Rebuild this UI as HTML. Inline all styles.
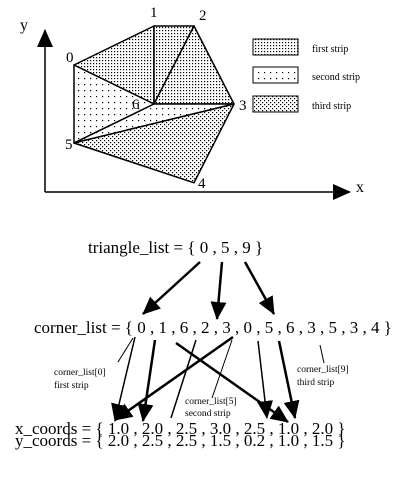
<!DOCTYPE html>
<html><head><meta charset="utf-8"><style>
body{margin:0;background:#fff;width:400px;height:480px;overflow:hidden}
svg text{font-family:"Liberation Serif",serif;fill:#000}
</style></head><body>
<svg id="fig" width="400" height="480" viewBox="0 0 400 480" xmlns="http://www.w3.org/2000/svg">
<defs>
<pattern id="p1" width="3" height="3" patternUnits="userSpaceOnUse"><rect width="3" height="3" fill="#fff"/><rect width="1.2" height="1.2" fill="#000"/></pattern>
<pattern id="p2" width="6" height="6" patternUnits="userSpaceOnUse"><rect width="6" height="6" fill="#fff"/><rect width="1.2" height="1.2" fill="#000"/></pattern>
<pattern id="p3" width="4" height="4" patternUnits="userSpaceOnUse"><rect width="4" height="4" fill="#fff"/><rect width="1.2" height="1.2" fill="#000"/><rect x="2" y="2" width="1.2" height="1.2" fill="#000"/></pattern>
<marker id="big" markerWidth="18" markerHeight="16" refX="17" refY="8" orient="auto" markerUnits="userSpaceOnUse" viewBox="0 0 18 16"><path d="M0,0 L18,8 L0,16 z" fill="#000"/></marker>
</defs>
<g id="plot"></g>
<g>
<line x1="45" y1="192" x2="45" y2="30" stroke="#000" stroke-width="1.5" marker-end="url(#big)"/>
<line x1="45" y1="192" x2="350" y2="192" stroke="#000" stroke-width="1.5" marker-end="url(#big)"/>
<text x="20" y="30" font-size="16">y</text>
<text x="356" y="192" font-size="16">x</text>
</g>
<g font-size="10">
<g><rect x="253" y="39" width="45" height="16" fill="url(#p1)" stroke="#000"/><text x="312" y="52">first strip</text></g>
<g><rect x="253" y="67" width="45" height="16" fill="url(#p2)" stroke="#000"/><text x="312" y="80">second strip</text></g>
<g><rect x="253" y="96" width="45" height="16" fill="url(#p3)" stroke="#000"/><text x="312" y="109">third strip</text></g>
</g>
<g font-size="17">
<text x="88" y="253">triangle_list = { 0 , 5 , 9 }</text>
<text x="34" y="333">corner_list = { 0 , 1 , 6 , 2 , 3 , 0 , 5 , 6 , 3 , 5 , 3 , 4 }</text>
<text x="15" y="434">x_coords = { 1.0 , 2.0 , 2.5 , 3.0 , 2.5 , 1.0 , 2.0 }</text>
<text x="15" y="446">y_coords = { 2.0 , 2.5 , 2.5 , 1.5 , 0.2 , 1.0 , 1.5 }</text>
</g>
<g font-size="9.5">
<text x="54" y="375">corner_list[0]</text>
<text x="54" y="388">first strip</text>
<text x="185" y="404">corner_list[5]</text>
<text x="185" y="416">second strip</text>
<text x="297" y="372">corner_list[9]</text>
<text x="297" y="385">third strip</text>
</g>
<g stroke="#000" fill="none" stroke-width="2.5">
<line x1="200" y1="262" x2="143" y2="314" marker-end="url(#big)"/>
<line x1="222" y1="262" x2="217" y2="319" marker-end="url(#big)"/>
<line x1="245" y1="262" x2="274" y2="314" marker-end="url(#big)"/>
<line x1="135" y1="337" x2="115" y2="421" marker-end="url(#big)" stroke-width="1.5"/>
<line x1="155" y1="340" x2="143" y2="421" marker-end="url(#big)"/>
<line x1="196" y1="340" x2="171" y2="418" stroke-width="1.5"/>
<line x1="233" y1="337" x2="115" y2="420" marker-end="url(#big)"/>
<line x1="176" y1="343" x2="288" y2="422" marker-end="url(#big)"/>
<line x1="258" y1="341" x2="267" y2="418" marker-end="url(#big)" stroke-width="1.5"/>
<line x1="279" y1="341" x2="295" y2="418" marker-end="url(#big)"/>
<line x1="133" y1="338" x2="118" y2="362" stroke-width="1"/>
<line x1="232" y1="340" x2="212" y2="398" stroke-width="1"/>
<line x1="320" y1="345" x2="324" y2="363" stroke-width="1"/>
</g>
</svg>
<script>
const xCoords=[1.0,2.0,2.5,3.0,2.5,1.0,2.0];
const yCoords=[2.0,2.5,2.5,1.5,0.49,1.0,1.5];
const cornerList=[0,1,6,2,3,0,5,6,3,5,3,4];
const stripStarts=[0,5,9];
const stripEnds=[5,9,12];
const stripFills=['url(#p1)','url(#p2)','url(#p3)'];
const vertexLabels=['0','1','2','3','4','5','6'];
function sx(v){return 74+(v-1)*80;}
function sy(v){return 143-(v-1)*78;}
const NS='http://www.w3.org/2000/svg';
const g=document.getElementById('plot');
for(let s=0;s<stripStarts.length;s++){
  for(let i=stripStarts[s];i+2<stripEnds[s];i++){
    const pts=[cornerList[i],cornerList[i+1],cornerList[i+2]].map(k=>sx(xCoords[k])+','+sy(yCoords[k])).join(' ');
    const p=document.createElementNS(NS,'polygon');
    p.setAttribute('points',pts);
    p.setAttribute('fill',stripFills[s]);
    p.setAttribute('stroke','#000');
    p.setAttribute('stroke-width','1.5');
    p.setAttribute('stroke-linejoin','round');
    
    
    g.appendChild(p);
  }
}
const off=[[-8,-3],[-4,-9],[5,-6],[5,6],[4,5],[-9,6],[-22,5]];
for(let k=0;k<vertexLabels.length;k++){
  const t=document.createElementNS(NS,'text');
  t.setAttribute('x',sx(xCoords[k])+off[k][0]);
  t.setAttribute('y',sy(yCoords[k])+off[k][1]);
  t.setAttribute('font-size','15');
  t.textContent=vertexLabels[k];
  
  
  g.appendChild(t);
}
</script>
</body></html>
